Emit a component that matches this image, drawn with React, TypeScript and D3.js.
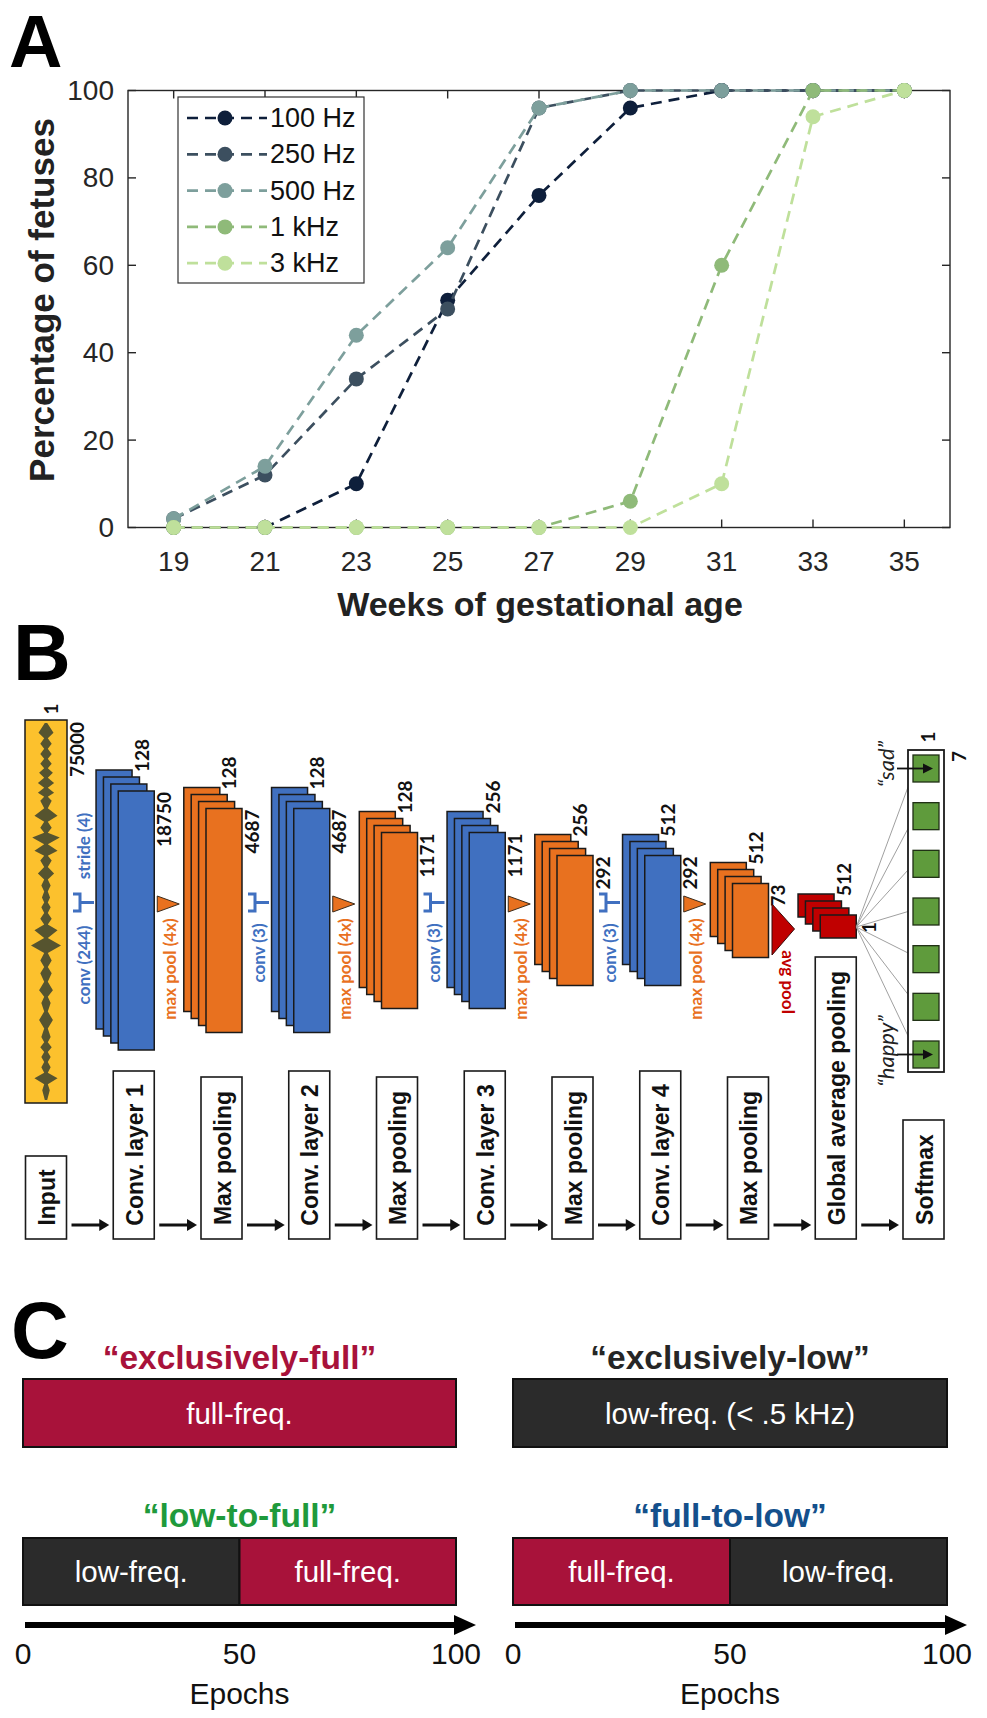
import React from "react";
import * as d3 from "d3";

// ---------------- Panel A data ----------------
const weeks = [19, 21, 23, 25, 27, 29, 31, 33, 35];
const seriesNames = ["100 Hz", "250 Hz", "500 Hz", "1 kHz", "3 kHz"];
const hz100 = [0, 0, 10, 52, 76, 96, 100, 100, 100];
const hz250 = [2, 12, 34, 50, 96, 100, 100, 100, 100];
const hz500 = [2, 14, 44, 64, 96, 100, 100, 100, 100];
const khz1 = [0, 0, 0, 0, 0, 6, 60, 100, 100];
const khz3 = [0, 0, 0, 0, 0, 0, 10, 94, 100];
const seriesValues = [hz100, hz250, hz500, khz1, khz3];
const seriesColors = ["#0e1f3b", "#3c4f5f", "#7d9f9c", "#8fba79", "#bfe09b"];
const xTicksA = [19, 21, 23, 25, 27, 29, 31, 33, 35];
const yTicksA = [0, 20, 40, 60, 80, 100];

// ---------------- Panel B data ----------------
const layerNames = [
  "Input", "Conv. layer 1", "Max pooling", "Conv. layer 2", "Max pooling",
  "Conv. layer 3", "Max pooling", "Conv. layer 4", "Max pooling",
  "Global average pooling", "Softmax",
];
const layerKinds = ["input", "conv", "pool", "conv", "pool", "conv", "pool", "conv", "pool", "gap", "softmax"];
const channelLabels = ["1", "128", "128", "128", "128", "256", "256", "512", "512", "512", "1"];
const lengthLabels = ["75000", "18750", "4687", "4687", "1171", "1171", "292", "292", "73", "1", "7"];
const convOps = ["conv (244)", "conv (3)", "conv (3)", "conv (3)"];
const poolOp = "max pool (4x)";
const strideLabel = "stride (4)";
const avgOp = "avg pool";
const emotions = ["“sad”", "“happy”"];
const nClasses = 7;
// waveform envelope: [position along signal 0..1, relative amplitude 0..1]
const waveLobes: [number, number][] = [
  [0.026, 0.5], [0.055, 0.38], [0.082, 0.38], [0.108, 0.38], [0.132, 0.46],
  [0.159, 0.54], [0.185, 0.54], [0.206, 0.38], [0.246, 0.77], [0.278, 0.38],
  [0.304, 0.92], [0.339, 0.77], [0.365, 0.38], [0.399, 0.54], [0.431, 0.31],
  [0.463, 0.27], [0.489, 0.31], [0.519, 0.38], [0.55, 0.77], [0.59, 1.0],
  [0.63, 0.38], [0.664, 0.38], [0.709, 0.46], [0.743, 0.31], [0.788, 0.46],
  [0.833, 0.31], [0.86, 0.38], [0.886, 0.31], [0.913, 0.31], [0.942, 0.77],
  [0.974, 0.25],
];

// ---------------- Panel C data ----------------
const schedNames = ["“exclusively-full”", "“exclusively-low”", "“low-to-full”", "“full-to-low”"];
const schedColors = ["#a8123a", "#262626", "#1f9a3c", "#14508c"];
const schedSegments: { from: number; to: number; kind: string; label: string }[][] = [
  [{ from: 0, to: 100, kind: "full", label: "full-freq." }],
  [{ from: 0, to: 100, kind: "low", label: "low-freq. (< .5 kHz)" }],
  [{ from: 0, to: 50, kind: "low", label: "low-freq." }, { from: 50, to: 100, kind: "full", label: "full-freq." }],
  [{ from: 0, to: 50, kind: "full", label: "full-freq." }, { from: 50, to: 100, kind: "low", label: "low-freq." }],
];
const epochTicks = [0, 50, 100];

// ---------------- styles / layout ----------------
const BLUE = "#4070c0";
const ORANGE = "#e8711f";
const RED = "#c00000";
const GOLD = "#fcc12d";
const GREEN = "#5f9b3c";
const FULLC = "#a8123a";
const LOWC = "#2b2b2b";
const stackFrontH = [0, 259, 224, 224, 176, 176, 130, 130, 74, 23, 0];
const labelBoxTop = [1156, 1071, 1077, 1071, 1077, 1071, 1077, 1071, 1077, 957, 1120];

const NUMFONT = "Lato, 'Open Sans', sans-serif";

function RotText(props: {
  x: number; y: number; children: any; angle?: number; anchor?: string; size?: number;
  fill?: string; weight?: any; family?: string; italic?: boolean;
}) {
  const { x, y, children, angle = -90, anchor = "middle", size = 19, fill = "#111", weight = "bold", family = NUMFONT, italic } = props;
  return (
    <text
      transform={`translate(${x},${y}) rotate(${angle})`}
      textAnchor={anchor as any}
      dominantBaseline="central"
      fontSize={size}
      fill={fill}
      fontWeight={weight}
      fontFamily={family}
      fontStyle={italic ? "italic" : "normal"}
    >
      {children}
    </text>
  );
}

function PanelA() {
  const xA = d3.scaleLinear().domain([18, 36]).range([128, 950]);
  const yA = d3.scaleLinear().domain([0, 100]).range([527.5, 90.5]);
  const line = d3.line<number>().x((_, i) => xA(weeks[i])).y((d) => yA(d));
  const [x0, x1] = xA.range();
  const [y0, y1] = yA.range();
  return (
    <g>
      <text x={9} y={67} fontSize={74} fontWeight="bold" fill="#000">A</text>
      <rect x={x0} y={y1} width={x1 - x0} height={y0 - y1} fill="#fff" stroke="#262626" strokeWidth={1.4} />
      {xTicksA.map((t) => (
        <g key={"xt" + t}>
          <line x1={xA(t)} x2={xA(t)} y1={y0} y2={y0 - 8} stroke="#262626" strokeWidth={1.4} />
          <line x1={xA(t)} x2={xA(t)} y1={y1} y2={y1 + 8} stroke="#262626" strokeWidth={1.4} />
          <text x={xA(t)} y={561} textAnchor="middle" dominantBaseline="central" fontSize={28} fill="#262626">{t}</text>
        </g>
      ))}
      {yTicksA.map((t) => (
        <g key={"yt" + t}>
          <line x1={x0} x2={x0 + 8} y1={yA(t)} y2={yA(t)} stroke="#262626" strokeWidth={1.4} />
          <line x1={x1} x2={x1 - 8} y1={yA(t)} y2={yA(t)} stroke="#262626" strokeWidth={1.4} />
          <text x={114} y={yA(t)} textAnchor="end" dominantBaseline="central" fontSize={28} fill="#262626">{t}</text>
        </g>
      ))}
      {seriesValues.map((vals, s) => (
        <g key={"s" + s}>
          <path d={line(vals) || ""} fill="none" stroke={seriesColors[s]} strokeWidth={2.7} strokeDasharray="11 7" />
          {vals.map((v, i) => (
            <circle key={i} cx={xA(weeks[i])} cy={yA(v)} r={7.5} fill={seriesColors[s]} />
          ))}
        </g>
      ))}
      {/* legend */}
      <rect x={178} y={97} width={186} height={186} fill="#fff" stroke="#333" strokeWidth={1.2} />
      {seriesNames.map((n, i) => {
        const ly = 118 + i * 36.3;
        return (
          <g key={"lg" + i}>
            <line x1={187} x2={267} y1={ly} y2={ly} stroke={seriesColors[i]} strokeWidth={2.7} strokeDasharray="11 7" />
            <circle cx={225} cy={ly} r={7.5} fill={seriesColors[i]} />
            <text x={270} y={ly} dominantBaseline="central" fontSize={27} fill="#111">{n}</text>
          </g>
        );
      })}
      <text transform="translate(41,300) rotate(-90)" textAnchor="middle" dominantBaseline="central" fontSize={35} fontWeight="bold" fill="#222">Percentage of fetuses</text>
      <text x={540} y={604} textAnchor="middle" dominantBaseline="central" fontSize={34} fontWeight="bold" fill="#222">Weeks of gestational age</text>
    </g>
  );
}

function PanelB() {
  const col = d3.scaleLinear().domain([0, layerNames.length - 1]).range([46, 923.5]);
  const halfBox = 20.5;
  const rectW = 36;
  const dx = 7.4;
  const dy = 7;
  const stackCenter = 920.5;
  const boxBottom = 1239;
  const arrowY = 1225;

  // input waveform
  const inTop = 720, inBot = 1103;
  const inX0 = col(0) - 21, inX1 = col(0) + 21;
  const wy = d3.scaleLinear().domain([0, 1]).range([723, 1100]);
  const wa = d3.scaleLinear().domain([0, 1]).range([0, 15]);
  const env: [number, number][] = [[0, 0.08]];
  waveLobes.forEach((l, i) => {
    const prev = i === 0 ? 0 : waveLobes[i - 1][0];
    if (i > 0) env.push([(prev + l[0]) / 2, 0.12]);
    env.push(l);
  });
  env.push([1, 0.08]);
  const waveArea = d3
    .area<[number, number]>()
    .y((d) => wy(d[0]))
    .x0((d) => col(0) - wa(d[1]))
    .x1((d) => col(0) + wa(d[1]));

  const frontRight = (i: number) => col(i) + halfBox;
  const stacks: any[] = [];
  for (let i = 1; i <= 9; i++) {
    const h = stackFrontH[i];
    const fr = frontRight(i);
    const fx = fr - rectW;
    const cy = layerKinds[i] === "gap" ? 926.5 : stackCenter;
    const ft = cy - h / 2;
    const fill = layerKinds[i] === "conv" ? BLUE : layerKinds[i] === "pool" ? ORANGE : RED;
    const rects = [];
    for (let k = 3; k >= 0; k--) {
      rects.push(
        <rect key={k} x={fx - k * dx} y={ft - k * dy} width={rectW} height={h} fill={fill} stroke="#1a1a1a" strokeWidth={1.5} />
      );
    }
    const backRight = fr - 3 * dx;
    const backTop = ft - 3 * dy;
    stacks.push(
      <g key={"st" + i}>
        {rects}
        <RotText x={backRight + 9} y={backTop + 2} anchor="start">{channelLabels[i]}</RotText>
        {layerKinds[i] === "gap" ? (
          <RotText x={fr + 12} y={ft + h / 2 + 1}>{lengthLabels[i]}</RotText>
        ) : (
          <RotText x={fr + 9} y={ft + 1} anchor="end">{lengthLabels[i]}</RotText>
        )}
      </g>
    );
  }

  // ops
  const ops: any[] = [];
  const bracket = (xs: number, key: string) => (
    <path key={key} d={`M${xs},894 H${xs + 7} V911 H${xs} M${xs + 7},902.5 H${xs + 21}`} fill="none" stroke={BLUE} strokeWidth={3} />
  );
  const convAfter = [0, 2, 4, 6];
  convAfter.forEach((li, k) => {
    const pr = li === 0 ? inX1 : frontRight(li);
    const xs = pr + 6;
    ops.push(bracket(xs, "br" + k));
    if (k === 0) {
      ops.push(<RotText key="cv0" x={xs + 10} y={965} size={17} weight="bold" fill={BLUE}>{convOps[0]}</RotText>);
      ops.push(<RotText key="sd0" x={xs + 10} y={846} size={17} weight="bold" fill={BLUE}>{strideLabel}</RotText>);
    } else {
      ops.push(<RotText key={"cv" + k} x={xs + 10} y={953} size={17} weight="bold" fill={BLUE}>{convOps[k]}</RotText>);
    }
  });
  [1, 3, 5, 7].forEach((li, k) => {
    const fr = frontRight(li);
    ops.push(<polygon key={"mp" + k} points={`${fr + 3},896 ${fr + 3},912 ${fr + 25},904`} fill={ORANGE} stroke="#3a2a1a" strokeWidth={1} />);
    ops.push(<RotText key={"mpl" + k} x={fr + 15} y={969} size={17} weight="bold" fill={ORANGE}>{poolOp}</RotText>);
  });
  {
    const fr = frontRight(8);
    ops.push(<polygon key="avg" points={`${fr + 3.5},904 ${fr + 3.5},955 ${fr + 26},929`} fill={RED} stroke="#3a0a0a" strokeWidth={1} />);
    ops.push(<RotText key="avgl" x={fr + 20} y={982} angle={90} size={17} weight="bold" fill={RED}>{avgOp}</RotText>);
  }

  // softmax
  const smX0 = 908, smX1 = 944, smTop = 750, smBot = 1072;
  const sq = d3.scaleLinear().domain([0, nClasses - 1]).range([755, 1041]);
  const sqSize = 27;
  const gapOrigin: [number, number] = [frontRight(9), 927];
  const fanMid = (sq(0) + sq(nClasses - 1)) / 2 + sqSize / 2;

  // bottom boxes
  const boxes = layerNames.map((n, i) => {
    const x0 = col(i) - halfBox;
    const top = labelBoxTop[i];
    return (
      <g key={"bx" + i}>
        <rect x={x0} y={top} width={halfBox * 2} height={boxBottom - top} fill="#fff" stroke="#1a1a1a" strokeWidth={1.6} />
        <RotText x={col(i) + 1} y={(top + boxBottom) / 2} size={23} weight="bold" family="Arial, 'Liberation Sans', sans-serif">{n}</RotText>
        {i > 0 && (
          <g>
            <line x1={col(i - 1) + halfBox + 5} x2={x0 - 12} y1={arrowY} y2={arrowY} stroke="#111" strokeWidth={3} />
            <polygon points={`${x0 - 14},${arrowY - 6} ${x0 - 4},${arrowY} ${x0 - 14},${arrowY + 6}`} fill="#111" />
          </g>
        )}
      </g>
    );
  });

  return (
    <g>
      <text x={13} y={680} fontSize={80} fontWeight="bold" fill="#000">B</text>
      {/* input */}
      <rect x={inX0} y={inTop} width={inX1 - inX0} height={inBot - inTop} fill={GOLD} stroke="#1a1a1a" strokeWidth={1.5} />
      <line x1={col(0)} x2={col(0)} y1={723} y2={1100} stroke="#50502c" strokeWidth={1.5} />
      <path d={waveArea(env) || ""} fill="#56542f" />
      <RotText x={col(0) + 4} y={709}>{channelLabels[0]}</RotText>
      <RotText x={inX1 + 9} y={722} anchor="end">{lengthLabels[0]}</RotText>
      {stacks}
      {ops}
      {/* fan lines */}
      {d3.range(nClasses).map((k) => {
        const c = sq(k) + sqSize / 2;
        const ey = fanMid + (c - fanMid) * 0.87;
        return <line key={"fan" + k} x1={gapOrigin[0]} y1={gapOrigin[1]} x2={smX0} y2={ey} stroke="#a0a0a0" strokeWidth={1} />;
      })}
      <rect x={smX0} y={smTop} width={smX1 - smX0} height={smBot - smTop} fill="#fff" stroke="#1a1a1a" strokeWidth={1.8} />
      {d3.range(nClasses).map((k) => (
        <rect key={"sq" + k} x={913} y={sq(k)} width={sqSize - 1} height={sqSize} fill={GREEN} stroke="#1f2f14" strokeWidth={1.3} />
      ))}
      <RotText x={927} y={737}>{channelLabels[10]}</RotText>
      <RotText x={958} y={751} anchor="end">{lengthLabels[10]}</RotText>
      {/* emotion arrows */}
      {[0, nClasses - 1].map((k, j) => {
        const cy = sq(k) + sqSize / 2;
        return (
          <g key={"em" + j}>
            <line x1={897} x2={925} y1={cy} y2={cy} stroke="#111" strokeWidth={1.8} />
            <polygon points={`${923},${cy - 5} ${933},${cy} ${923},${cy + 5}`} fill="#111" />
            <RotText x={885} y={j === 0 ? 764 : 1051} size={22} weight="normal" italic fill="#222">{emotions[j]}</RotText>
          </g>
        );
      })}
      {boxes}
    </g>
  );
}

function PanelC() {
  const scales = [
    d3.scaleLinear().domain([0, 100]).range([23, 456]),
    d3.scaleLinear().domain([0, 100]).range([513, 947]),
  ];
  const rows = [
    { titleY: 1357, barY: 1379, barH: 68 },
    { titleY: 1515, barY: 1538, barH: 67 },
  ];
  return (
    <g>
      <text x={11} y={1358} fontSize={80} fontWeight="bold" fill="#000">C</text>
      {schedNames.map((name, s) => {
        const sc = scales[s % 2];
        const r = rows[Math.floor(s / 2)];
        const mid = (sc.range()[0] + sc.range()[1]) / 2;
        return (
          <g key={"sc" + s}>
            <text x={mid} y={r.titleY} textAnchor="middle" dominantBaseline="central" fontSize={33.5} fontWeight="bold" fill={schedColors[s]}>{name}</text>
            {schedSegments[s].map((seg, k) => (
              <g key={k}>
                <rect x={sc(seg.from)} y={r.barY} width={sc(seg.to) - sc(seg.from)} height={r.barH} fill={seg.kind === "full" ? FULLC : LOWC} stroke="#111" strokeWidth={2} />
                <text x={(sc(seg.from) + sc(seg.to)) / 2} y={r.barY + r.barH / 2} textAnchor="middle" dominantBaseline="central" fontSize={29.5} fill="#fff">{seg.label}</text>
              </g>
            ))}
          </g>
        );
      })}
      {scales.map((sc, j) => {
        const [a, b] = sc.range();
        return (
          <g key={"ax" + j}>
            <line x1={a + 2} x2={b} y1={1625} y2={1625} stroke="#000" strokeWidth={6} />
            <polygon points={`${b - 2},${1615} ${b + 20},${1625} ${b - 2},${1635}`} fill="#000" />
            {epochTicks.map((t) => (
              <text key={t} x={sc(t)} y={1653} textAnchor="middle" dominantBaseline="central" fontSize={30} fill="#111">{t}</text>
            ))}
            <text x={(a + b) / 2} y={1693} textAnchor="middle" dominantBaseline="central" fontSize={30} fill="#111">Epochs</text>
          </g>
        );
      })}
    </g>
  );
}

export default function App() {
  return (
    <svg
      width={987}
      height={1718}
      viewBox="0 0 987 1718"
      style={{ position: "absolute", left: 0, top: 0, background: "#fff" }}
      fontFamily="Arial, 'Liberation Sans', sans-serif"
    >
      <rect x={0} y={0} width={987} height={1718} fill="#fff" />
      <PanelA />
      <PanelB />
      <PanelC />
    </svg>
  );
}
